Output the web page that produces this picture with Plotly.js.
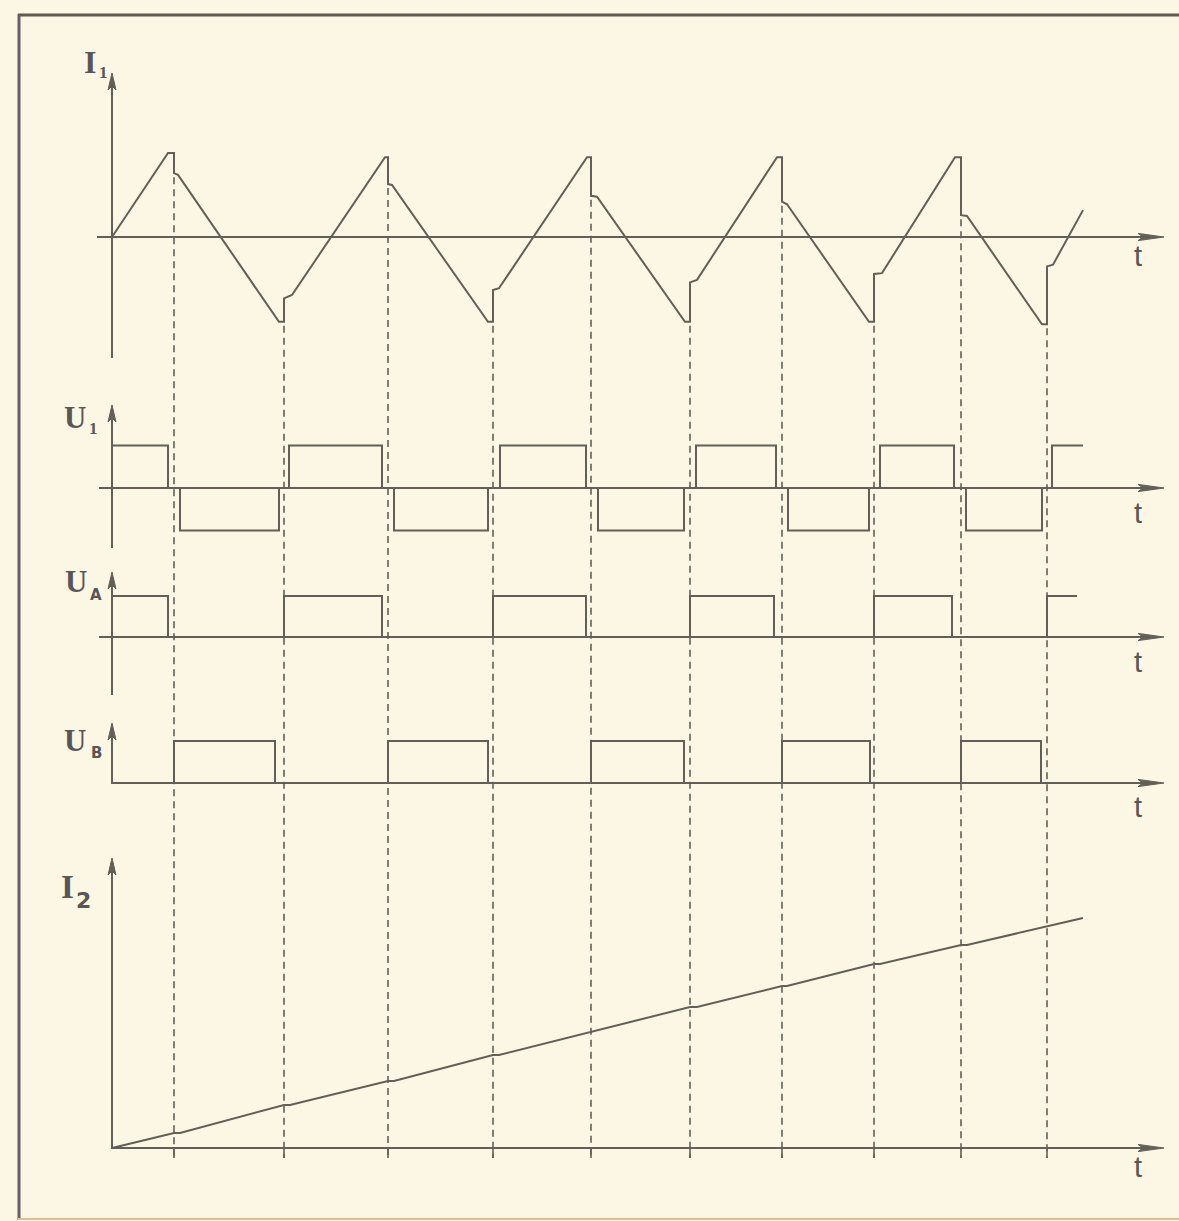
<!DOCTYPE html>
<html>
<head>
<meta charset="utf-8">
<script src="https://cdn.plot.ly/plotly-3.0.1.min.js"></script>
<style>
html,body{margin:0;padding:0;background:#fbf7e4;}
#chart{width:1179px;height:1221px;}
</style>
</head>
<body>
<div id="chart"></div>
<script>
// ---------- DATA (time in arbitrary units) ----------
// Primary current I1 (normalised, peak = 1)
const i1Time  = [0,56,62,62,66, 167,172,172,180, 273,276,276,280, 376,381,381,387, 475,479,479,485,
                 573,578,578,585, 665,670,670,675, 757,762,762,770, 843,849,849,855, 930,935,935,941, 971];
const i1Value = [0,1.0,1.0,0.76,0.74, -1.01,-1.01,-0.73,-0.69, 0.95,0.95,0.63,0.62, -1.01,-1.01,-0.63,-0.61,
                 0.95,0.95,0.49,0.48, -1.01,-1.01,-0.54,-0.51, 0.95,0.95,0.42,0.39, -1.01,-1.01,-0.44,-0.43,
                 0.95,0.95,0.26,0.25, -1.04,-1.04,-0.35,-0.33, 0.32];

// Primary voltage U1 pulses
const u1Start = [0,68,177,282,388,486,584,676,768,854,940];
const u1End   = [56,167,270,376,474,572,664,757,842,930,971];
const u1Level = [1,-1,1,-1,1,-1,1,-1,1,-1,1];

// U_A pulses
const uaStart = [0,172,381,578,762,935];
const uaEnd   = [56,270,474,662,840,965];
const uaLevel = [1,1,1,1,1,1];

// U_B pulses
const ubStart = [62,276,479,670,849];
const ubEnd   = [163,376,572,758,929];
const ubLevel = [1,1,1,1,1];

// Secondary current I2
const i2Time  = [0,62,68,172,178,276,282,381,387,479,485,578,585,670,675,762,768,849,855,935,971];
const i2Value = [0,0.15,0.15,0.43,0.43,0.67,0.67,0.93,0.93,1.16,1.17,1.41,1.41,1.62,1.62,1.84,1.84,2.03,2.03,2.22,2.30];

// Switching instants (dashed guides)
const dashTime = [62,172,276,381,479,578,670,762,849,935];

// Labels
const axisNames = {I1:['I','1'], U1:['U','1'], UA:['U','A'], UB:['U','B'], I2:['I','2']};
const timeLabel = 't';

// ---------- LAYOUT ----------
const W = 1179, H = 1221;
const originX = 112;          // pixel column of t = 0
const tipX = 1164;            // pixel column of the t-arrow tip
const INK = '#615f58';
const TXT = '#5a5655';

const chans = {
  I1:{zero:237,  s:84,   axis:'y',  left:97,  up:164, down:121, tDy:19},
  U1:{zero:488,  s:42.5, axis:'y2', left:99,  up:83,  down:60,  tDy:25},
  UA:{zero:637,  s:41,   axis:'y3', left:99,  up:65,  down:58,  tDy:25},
  UB:{zero:783,  s:42,   axis:'y4', left:111, up:60,  down:0,   tDy:24},
  I2:{zero:1148, s:100,  axis:'y5', left:111, up:290, down:0,   tDy:19}
};
const labelPos = {
  I1:{main:[90,62.5,32,'Liberation Serif',true], sub:[103,72,17,'Liberation Serif',true]},
  U1:{main:[75,417.5,31,'Liberation Serif',true], sub:[93,428,17,'Liberation Serif',true]},
  UA:{main:[76,581.5,31,'Liberation Serif',true], sub:[96,595,15,'DejaVu Sans',true]},
  UB:{main:[75,740,31,'Liberation Serif',true], sub:[96,753,15,'DejaVu Sans',true]},
  I2:{main:[67.5,886.5,33,'Liberation Serif',true], sub:[83,900.5,22,'DejaVu Sans',true]}
};

const X = px => px / W;
const Y = px => 1 - px / H;
const vpx = (c, v) => c.zero - v * c.s;

function pulses(starts, ends, levels, openLast){
  const t = [], v = [];
  for (let i = 0; i < starts.length; i++){
    t.push(starts[i], starts[i], ends[i]);
    v.push(0, levels[i], levels[i]);
    if (!(openLast && i === starts.length - 1)) { t.push(ends[i]); v.push(0); }
  }
  return {t, v};
}

const u1 = pulses(u1Start, u1End, u1Level, true);
const ua = pulses(uaStart, uaEnd, uaLevel, true);
const ub = pulses(ubStart, ubEnd, ubLevel, false);

const lineStyle = {color: INK, width: 2};
function tr(t, v, axis){
  return {x: t, y: v, xaxis: 'x', yaxis: axis, type: 'scatter', mode: 'lines',
          line: lineStyle, hoverinfo: 'skip', showlegend: false};
}
const data = [
  tr(i1Time, i1Value, chans.I1.axis),
  tr(u1.t, u1.v, chans.U1.axis),
  tr(ua.t, ua.v, chans.UA.axis),
  tr(ub.t, ub.v, chans.UB.axis),
  tr(i2Time, i2Value, chans.I2.axis)
];

// axes
const layout = {
  width: W, height: H,
  margin: {l:0, r:0, t:0, b:0},
  paper_bgcolor: '#fbf7e4', plot_bgcolor: '#fbf7e4',
  showlegend: false,
  xaxis: {range: [-originX, W - originX], visible: false, fixedrange: true},
  shapes: [], annotations: []
};
Object.keys(chans).forEach((k, i) => {
  const c = chans[k];
  const name = i === 0 ? 'yaxis' : 'yaxis' + (i + 1);
  const ax = {domain: [0, 1], range: [-(H - c.zero) / c.s, c.zero / c.s], visible: false, fixedrange: true};
  if (i > 0) { ax.overlaying = 'y'; }
  ax.anchor = 'x';
  layout[name] = ax;

  // horizontal time axis with arrow
  layout.shapes.push({type:'line', xref:'paper', yref:'paper', x0:X(c.left), x1:X(tipX - 6),
    y0:Y(c.zero), y1:Y(c.zero), line:{color:INK, width:2}});
  layout.shapes.push({type:'path', xref:'paper', yref:'paper', fillcolor:INK, line:{color:INK, width:1},
    path:`M${X(tipX)},${Y(c.zero)} L${X(tipX-26)},${Y(c.zero-3.6)} L${X(tipX-21)},${Y(c.zero)} L${X(tipX-26)},${Y(c.zero+3.6)} Z`});
  // vertical value axis with arrow
  const top = c.zero - c.up, bot = c.zero + c.down;
  layout.shapes.push({type:'line', xref:'paper', yref:'paper', x0:X(originX), x1:X(originX),
    y0:Y(bot), y1:Y(top + 6), line:{color:INK, width:2}});
  layout.shapes.push({type:'path', xref:'paper', yref:'paper', fillcolor:INK, line:{color:INK, width:1},
    path:`M${X(originX)},${Y(top)} L${X(originX-4)},${Y(top+17)} L${X(originX)},${Y(top+13)} L${X(originX+4)},${Y(top+17)} Z`});

  // "t" label
  layout.annotations.push({xref:'paper', yref:'paper', x:X(1138), y:Y(c.zero + c.tDy),
    xanchor:'center', yanchor:'middle', text:timeLabel, showarrow:false, borderpad:0,
    font:{family:'Liberation Sans, Arial, sans-serif', size:29, color:TXT}});

  // channel label
  const lp = labelPos[k];
  const [mx, my, ms, mf, mb] = lp.main;
  const [sx, sy, ss, sf, sb] = lp.sub;
  layout.annotations.push({xref:'paper', yref:'paper', x:X(mx), y:Y(my), xanchor:'center', yanchor:'middle',
    text: mb ? '<b>' + axisNames[k][0] + '</b>' : axisNames[k][0], showarrow:false, borderpad:0,
    font:{family:mf, size:ms, color:TXT}});
  layout.annotations.push({xref:'paper', yref:'paper', x:X(sx), y:Y(sy), xanchor:'center', yanchor:'middle',
    text: sb ? '<b>' + axisNames[k][1] + '</b>' : axisNames[k][1], showarrow:false, borderpad:0,
    font:{family:sf, size:ss, color:TXT}});
});

// dashed guides at the switching instants
dashTime.forEach(td => {
  let vmin = Infinity;
  i1Time.forEach((t, j) => { if (t === td && i1Value[j] < vmin) vmin = i1Value[j]; });
  const p0 = vpx(chans.I1, vmin) + 4;
  const p1 = chans.I2.zero + 10;
  layout.shapes.push({type:'line', xref:'x', yref:'paper', x0:td, x1:td, y0:Y(p0), y1:Y(p1),
    line:{color:INK, width:1.6, dash:'7px,5px'}});
  layout.shapes.push({type:'line', xref:'x', yref:'paper', x0:td, x1:td, y0:Y(chans.I2.zero), y1:Y(p1),
    line:{color:INK, width:1.6}});
});

// page frame (scanned figure border)
layout.shapes.push({type:'line', xref:'paper', yref:'paper', x0:X(19), x1:X(19), y0:Y(14), y1:Y(1220),
  line:{color:'#6a5f66', width:3}});
layout.shapes.push({type:'line', xref:'paper', yref:'paper', x0:X(18), x1:X(W), y0:Y(15), y1:Y(15),
  line:{color:'#615b55', width:3}});
layout.shapes.push({type:'line', xref:'paper', yref:'paper', x0:X(18), x1:X(W), y0:Y(1219), y1:Y(1219),
  line:{color:'#dcbf95', width:2}});

Plotly.newPlot('chart', data, layout, {staticPlot: true, displayModeBar: false});
</script>
</body>
</html>
